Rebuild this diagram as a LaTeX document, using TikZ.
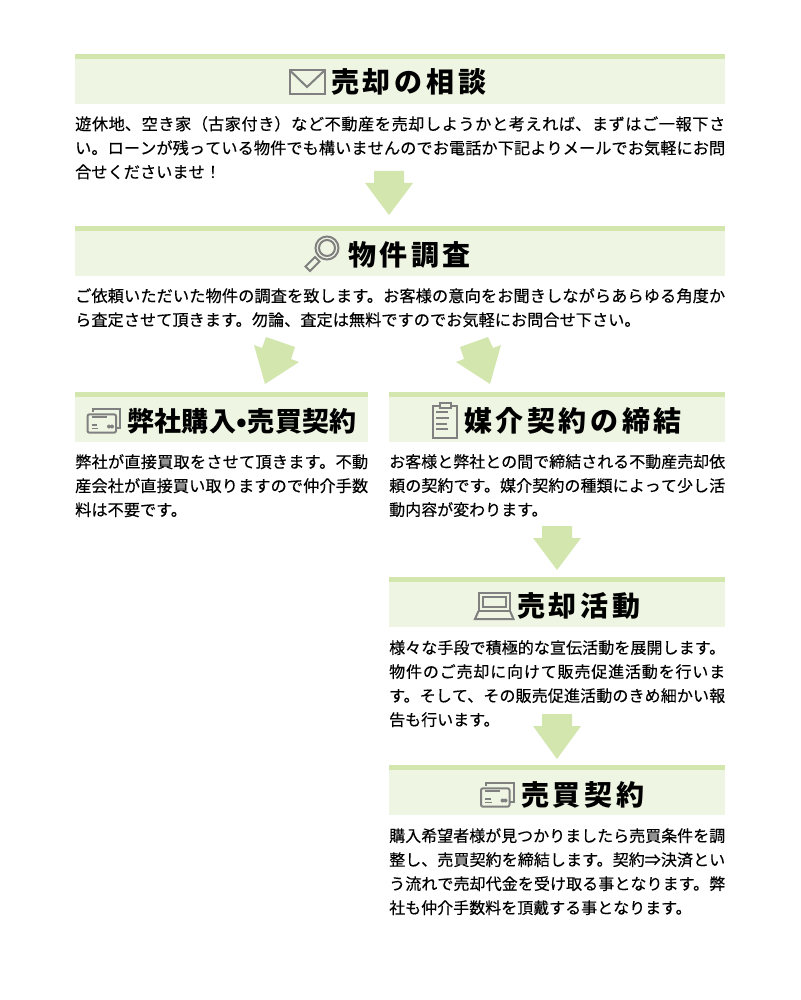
\documentclass[tikz,border=0pt]{standalone}
\usepackage{fontspec}
\setmainfont{Noto Sans CJK JP}
\newfontfamily\bodyfont[FakeBold=0.3]{Noto Sans CJK JP}
\definecolor{bandD}{HTML}{D2E6AE}
\definecolor{bandL}{HTML}{EEF5E2}
\definecolor{arrowC}{HTML}{D2E6AE}
\definecolor{iconC}{HTML}{808080}
\newcommand{\bodyset}[1][16]{\bodyfont\fontsize{#1}{24}\selectfont\XeTeXlinebreaklocale "ja"\XeTeXlinebreakskip=0pt plus 4pt\relax\tolerance=9999 \hbadness=10000 }
\newcommand{\ttl}[3][28]{\parbox{#2pt}{\XeTeXlinebreaklocale "ja"\XeTeXlinebreakskip=0pt plus 30pt\relax\tolerance=9999 \hbadness=10000 \parfillskip=0pt \fontsize{#1}{32}\bfseries\selectfont #3}}
\tikzset{
  x=1pt,y=-1pt,
  lightband/.style={fill=bandL},
  darkband/.style={fill=bandD},
  blockarrow/.style={fill=arrowC},
  icon/.style={draw=iconC,line width=2pt,fill=none,line join=miter},
  thinicon/.style={draw=iconC,line width=1.5pt},
  titlelabel/.style={inner sep=0pt,text=black,anchor=center},
  bodytext/.style={inner sep=0pt,anchor=north west,align=justify,text=black},
}
\begin{document}
\begin{tikzpicture}
\useasboundingbox[fill=white] (0,0) rectangle (800,1000);
% bands
\fill[lightband] (75,54) rectangle (725,104);  \fill[darkband] (75,54) rectangle (725,59);
\fill[lightband] (75,226) rectangle (725,276); \fill[darkband] (75,226) rectangle (725,231);
\fill[lightband] (75,392) rectangle (368,442); \fill[darkband] (75,392) rectangle (368,397);
\fill[lightband] (389,392) rectangle (725,442);\fill[darkband] (389,392) rectangle (725,397);
\fill[lightband] (389,577) rectangle (725,627);\fill[darkband] (389,577) rectangle (725,582);
\fill[lightband] (389,765) rectangle (725,815);\fill[darkband] (389,765) rectangle (725,770);
% arrows
\fill[blockarrow] (374,171) -- (404,171) -- (404,183) -- (413,183) -- (389,215) -- (365,183) -- (374,183) -- cycle;
\fill[blockarrow] (542,526) -- (572,526) -- (572,538) -- (581,538) -- (557,570) -- (533,538) -- (542,538) -- cycle;
\fill[blockarrow] (542,714) -- (572,714) -- (572,726) -- (581,726) -- (557,759) -- (533,726) -- (542,726) -- cycle;
\fill[blockarrow] (266,337) -- (295,347) -- (291,359) -- (299,362) -- (265,384) -- (254,345) -- (262,348) -- cycle;
\fill[blockarrow] (488,337) -- (460,347) -- (464,359) -- (456,362) -- (490,384) -- (501,345) -- (493,348) -- cycle;
% envelope
\draw[icon] (290,70.5) rectangle (324.5,94.5);
\draw[icon] (290,70.5) -- (307,87) -- (324.5,70.5);
% magnifier
\draw[icon] (327,248) circle (11.5);
\draw[icon] (327,248) circle (8);
\draw[icon] (315,257) -- (319.5,261.5) -- (310,271) -- (305.5,266.5) -- cycle;
% card 1
\draw[icon] (92.7,412) -- (92.7,408.8) -- (120,408.8) -- (120,428) -- (116,428);
\draw[icon,rounded corners=2pt] (87.5,414.3) rectangle (116,432.7);
\draw[icon] (91.7,417) -- (106.7,417);
\draw[thinicon] (91.7,425) -- (97,425);
\draw[thinicon] (91.7,428.5) -- (98,428.5);
\fill[iconC] (109,426.5) circle (2); \fill[iconC] (112,426.5) circle (2);
% card 2
\begin{scope}[shift={(393.5,374)}]
\draw[icon] (92.7,412) -- (92.7,408.8) -- (120,408.8) -- (120,428) -- (116,428);
\draw[icon,rounded corners=2pt] (87.5,414.3) rectangle (116,432.7);
\draw[icon] (91.7,417) -- (106.7,417);
\draw[thinicon] (91.7,425) -- (97,425);
\draw[thinicon] (91.7,428.5) -- (98,428.5);
\fill[iconC] (109,426.5) circle (2); \fill[iconC] (112,426.5) circle (2);
\end{scope}
% clipboard
\draw[icon] (439.5,405.5) -- (432.5,405.5) -- (432.5,437.5) -- (457,437.5) -- (457,405.5) -- (451,405.5);
\draw[icon] (439.5,403) rectangle (451,408);
\draw[icon] (436,412) -- (448,412);
\draw[icon] (436,418) -- (449,418);
\draw[icon] (436,423.7) -- (447,423.7);
\draw[icon] (436,429) -- (448,429);
% laptop
\draw[icon] (478.5,592.5) rectangle (510,611);
\draw[icon] (482.7,596.7) rectangle (506,607);
\draw[icon] (478.5,611) -- (475,619) -- (513.5,619) -- (510,611);
% titles
\node[titlelabel] (t1) at (409,82) {\ttl{156}{売却の相談}};
\node[titlelabel] (t2) at (409.5,255) {\ttl{123}{物件調査}};
\node[titlelabel] (t3) at (242,421) {\ttl[27]{230}{弊社購入•売買契約}};
\node[titlelabel] (t4) at (573,421) {\ttl{218}{媒介契約の締結}};
\node[titlelabel] (t5) at (579,606) {\ttl{124}{売却活動}};
\node[titlelabel] (t6) at (583,795) {\ttl{124}{売買契約}};
% body
\node[bodytext,text width=650pt] (b1) at (75,116) {\bodyset[16.2]遊休地、空き家（古家付き）など不動産を売却しようかと考えれば、まずはご一報下さ\linebreak い。ローンが残っている物件でも構いませんのでお電話か下記よりメールでお気軽にお問\linebreak 合せくださいませ！\par};
\node[bodytext,text width=650pt] (b2) at (75,288) {\bodyset[16.2]ご依頼いただいた物件の調査を致します。お客様の意向をお聞きしながらあらゆる角度か\linebreak ら査定させて頂きます。勿論、査定は無料ですのでお気軽にお問合せ下さい。\par};
\node[bodytext,text width=293pt] (b3) at (75,454) {\bodyset[16.2]弊社が直接買取をさせて頂きます。不動\linebreak 産会社が直接買い取りますので仲介手数\linebreak 料は不要です。\par};
\node[bodytext,text width=336pt] (b4) at (389,454) {\bodyset お客様と弊社との間で締結される不動産売却依\linebreak 頼の契約です。媒介契約の種類によって少し活\linebreak 動内容が変わります。\par};
\node[bodytext,text width=336pt] (b5) at (389,640) {\bodyset 様々な手段で積極的な宣伝活動を展開します。\linebreak 物件のご売却に向けて販売促進活動を行いま\linebreak す。そして、その販売促進活動のきめ細かい報\linebreak 告も行います。\par};
\node[bodytext,text width=336pt] (b6) at (389,828) {\bodyset 購入希望者様が見つかりましたら売買条件を調\linebreak 整し、売買契約を締結します。契約⇒決済とい\linebreak う流れで売却代金を受け取る事となります。弊\linebreak 社も仲介手数料を頂戴する事となります。\par};
\end{tikzpicture}
\end{document}
